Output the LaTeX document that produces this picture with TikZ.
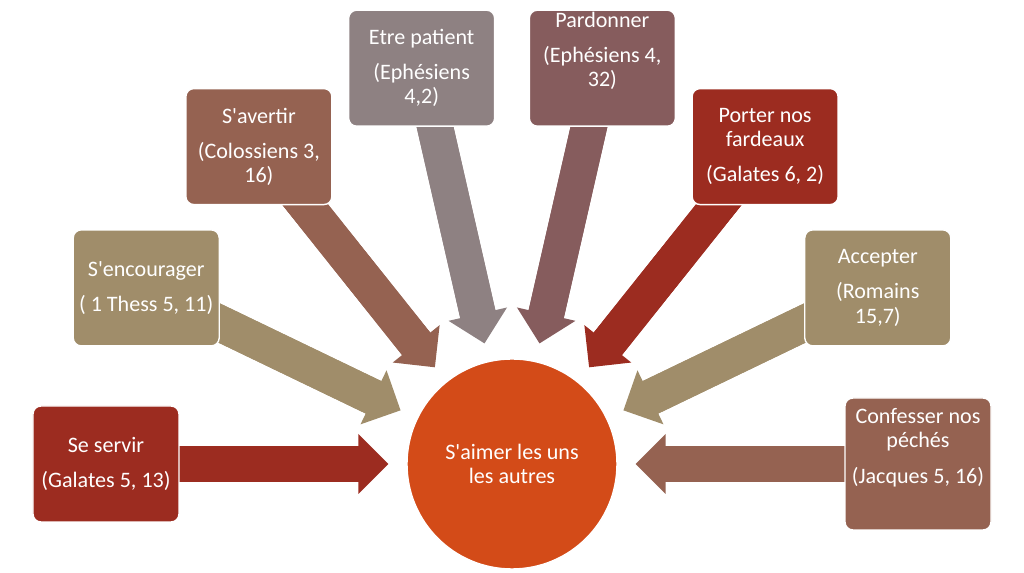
\documentclass[tikz,border=0pt]{standalone}
\usepackage{fontspec}
\newfontfamily\boxfont{Carlito}
\usetikzlibrary{arrows.meta,backgrounds}

\definecolor{servir}{RGB}{156,44,32}
\definecolor{sable}{RGB}{160,141,106}
\definecolor{brique}{RGB}{149,98,81}
\definecolor{gris}{RGB}{142,129,130}
\definecolor{mauve}{RGB}{134,92,93}
\definecolor{coeur}{RGB}{211,75,24}

\begin{document}
\begin{tikzpicture}[
    box/.style={rectangle, rounded corners=0.2cm, draw=white, line width=1pt, minimum width=3.65cm, minimum height=2.9cm},
    txt/.style={align=center, text=white, font=\boxfont\fontsize{15.7pt}{17.2pt}\selectfont},
    hubstyle/.style={circle, draw=white, line width=1pt, fill=coeur, minimum size=5.25cm},
    flow/.style={#1, line width=0.9cm, shorten >=0.45cm,
        preaction={draw=#1, line width=0.9cm, shorten >=1.1cm, arrows=-},
        -{Triangle[length=0.75cm, width=1.5cm, line width=0pt]}}
]
\useasboundingbox (-12.8,-2.725) rectangle (12.8,11.6);

% Centre
\node[hubstyle, txt] (hub) at (0,0) {S'aimer les uns\\les autres};

% Boxes on a half ring round the centre
\node[box, fill=servir] (b1) at (180:10.15) {};
\node[box, fill=sable] (b2) at (154.29:10.15) {};
\node[box, fill=brique] (b3) at (128.57:10.15) {};
\node[box, fill=gris] (b4) at (102.86:10.15) {};
\node[box, fill=mauve] (b5) at (77.14:10.15) {};
\node[box, fill=servir] (b6) at (51.43:10.15) {};
\node[box, fill=sable] (b7) at (25.71:10.15) {};
\node[box, fill=brique, minimum height=3.3cm] (b8) at (0:10.15) {};

% Texts
\node[txt] (t1) at (b1) {Se servir\\[7.8pt](Galates 5, 13)};
\node[txt] (t2) at (b2) {S'encourager\\[7.8pt]( 1 Thess 5, 11)};
\node[txt] (t3) at (b3) {S'avertir\\[7.8pt](Colossiens 3,\\16)};
\node[txt] (t4) at (b4) {Etre patient\\[7.8pt](Ephésiens\\4,2)};
\node[txt] (t5) at ([yshift=0.425cm]b5.center) {Pardonner\\[7.8pt](Ephésiens 4,\\32)};
\node[txt] (t6) at (b6) {Porter nos\\fardeaux\\[7.8pt](Galates 6, 2)};
\node[txt] (t7) at (b7) {Accepter\\[7.8pt](Romains\\15,7)};
\node[txt] (t8) at ([yshift=0.41cm]b8.center) {Confesser nos\\péchés\\[7.8pt](Jacques 5, 16)};

% Arrows into the centre
\begin{scope}[on background layer]
\draw[flow=servir] (b1.center) -- (hub);
\draw[flow=sable] (b2.center) -- (hub);
\draw[flow=brique] (b3.center) -- (hub);
\draw[flow=gris] (b4.center) -- (hub);
\draw[flow=mauve] (b5.center) -- (hub);
\draw[flow=servir] (b6.center) -- (hub);
\draw[flow=sable] (b7.center) -- (hub);
\draw[flow=brique] (b8.center) -- (hub);
\end{scope}

\end{tikzpicture}
\end{document}
